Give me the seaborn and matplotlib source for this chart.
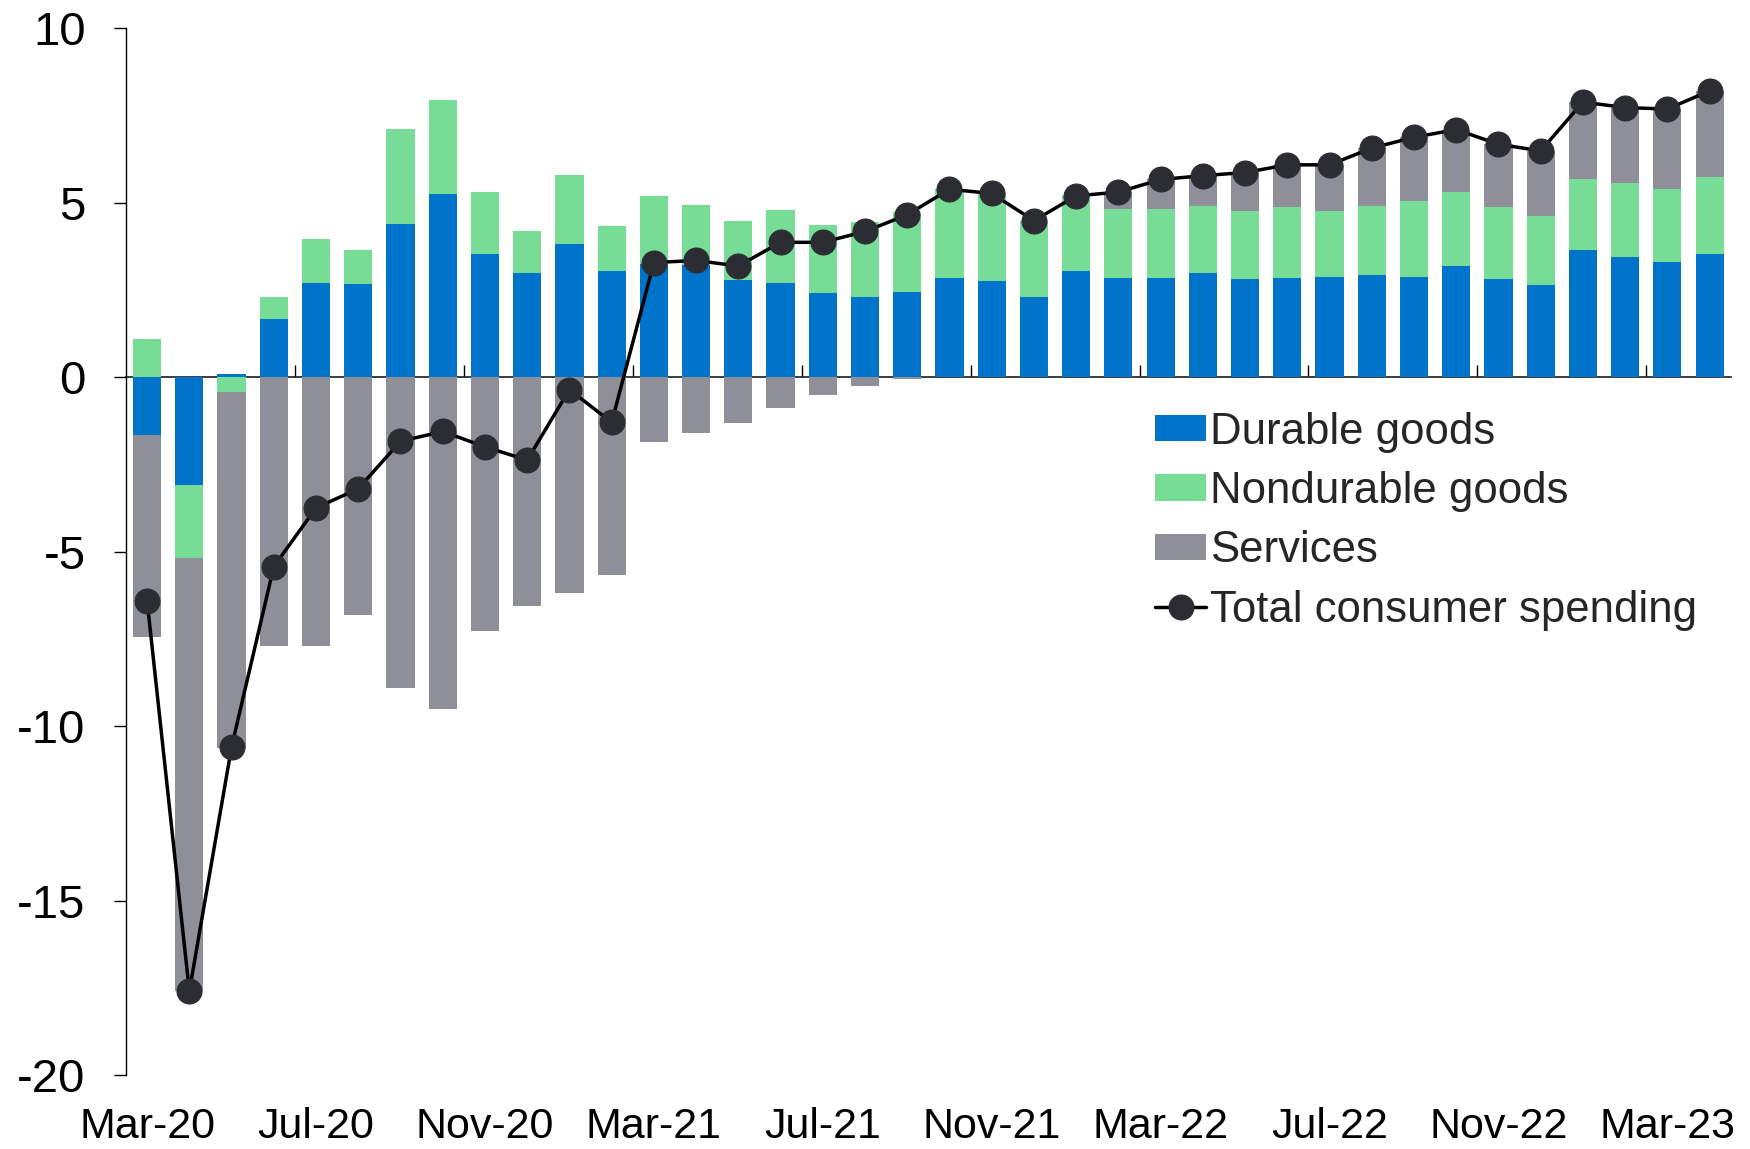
import matplotlib.pyplot as plt
import seaborn as sns
import numpy as np

sns.set_theme(style="white")
plt.rcParams['font.family'] = ['Liberation Sans', 'DejaVu Sans']

# monthly, Mar-20 .. Apr-23
months = ["Mar-20", "Apr-20", "May-20", "Jun-20", "Jul-20", "Aug-20", "Sep-20", "Oct-20",
          "Nov-20", "Dec-20", "Jan-21", "Feb-21", "Mar-21", "Apr-21", "May-21", "Jun-21",
          "Jul-21", "Aug-21", "Sep-21", "Oct-21", "Nov-21", "Dec-21", "Jan-22", "Feb-22",
          "Mar-22", "Apr-22", "May-22", "Jun-22", "Jul-22", "Aug-22", "Sep-22", "Oct-22",
          "Nov-22", "Dec-22", "Jan-23", "Feb-23", "Mar-23", "Apr-23"]
durable = [-1.65, -3.08, 0.10, 1.66, 2.70, 2.67, 4.38, 5.24, 3.53, 2.97, 3.82, 3.03,
           3.25, 3.22, 2.78, 2.69, 2.40, 2.29, 2.43, 2.84, 2.74, 2.29, 3.03, 2.84,
           2.84, 2.99, 2.80, 2.84, 2.88, 2.92, 2.88, 3.18, 2.80, 2.63, 3.63, 3.44, 3.30, 3.52]
nondurable = [1.10, -2.12, -0.42, 0.63, 1.26, 0.97, 2.73, 2.71, 1.78, 1.22, 1.97, 1.31,
              1.94, 1.71, 1.70, 2.09, 1.97, 2.15, 2.30, 2.52, 2.50, 2.17, 2.13, 1.98,
              1.98, 1.91, 1.95, 2.02, 1.87, 1.98, 2.16, 2.13, 2.06, 1.97, 2.05, 2.13, 2.09, 2.20]
services = [-5.80, -12.40, -10.22, -7.72, -7.72, -6.81, -8.91, -9.50, -7.29, -6.56, -6.19, -5.67,
            -1.87, -1.59, -1.31, -0.90, -0.51, -0.27, -0.07, 0.02, 0.02, 0.02, 0.04, 0.48,
            0.84, 0.87, 1.11, 1.22, 1.33, 1.66, 1.83, 1.78, 1.81, 1.88, 2.20, 2.15, 2.29, 2.48]
total = [-6.41, -17.60, -10.60, -5.43, -3.75, -3.20, -1.84, -1.56, -2.00, -2.38, -0.36, -1.30,
         3.28, 3.34, 3.18, 3.86, 3.86, 4.17, 4.65, 5.38, 5.26, 4.48, 5.19, 5.30,
         5.66, 5.77, 5.86, 6.08, 6.08, 6.56, 6.87, 7.09, 6.67, 6.48, 7.88, 7.72, 7.68, 8.20]

series = [("Durable goods", durable, "#0073CB"),
          ("Nondurable goods", nondurable, "#77DD96"),
          ("Services", services, "#8E8F99")]

x = np.arange(len(months))
fig = plt.figure(figsize=(17.5, 11.49), dpi=100)
ax = fig.add_axes([0.072, 0.0644, 0.917, 0.9112])

pos_base = np.zeros(len(x))
neg_base = np.zeros(len(x))
for name, vals, color in series:
    v = np.array(vals)
    bottom = np.where(v >= 0, pos_base, neg_base)
    ax.bar(x, v, bottom=bottom, width=0.667, color=color, label=name, linewidth=0)
    pos_base = pos_base + np.where(v >= 0, v, 0)
    neg_base = neg_base + np.where(v < 0, v, 0)

sns.lineplot(x=x, y=total, ax=ax, color="black", linewidth=2.5, marker="o",
             markersize=18, markerfacecolor="#2B2D33", markeredgecolor="#2B2D33",
             label="Total consumer spending", zorder=5)

ax.set_xlim(-0.5, 37.5)
ax.set_ylim(-20, 10)
ax.set_yticks([-20, -15, -10, -5, 0, 5, 10])
ax.set_yticklabels(["-20", "-15", "-10", "-5", "0", "5", "10"])
ax.set_xticks(x[::4])
ax.set_xticklabels(months[::4])
ax.tick_params(axis="x", length=0, labelsize=31, pad=23, colors="black")
ax.tick_params(axis="y", direction="out", length=9, width=1, left=True,
               labelsize=34, pad=20, colors="black")
for s in ["top", "right", "bottom"]:
    ax.spines[s].set_visible(False)
ax.spines["left"].set_color("black")
ax.spines["left"].set_linewidth(1)

# category axis drawn at zero, ticks between groups of 4 months
sec = ax.secondary_xaxis(2 / 3)
sec.set_xticks(np.arange(3.5, 37.5, 4))
sec.set_xticklabels([])
sec.tick_params(direction="out", length=9, width=1, color="black")
sec.spines["bottom"].set_color("black")
sec.spines["bottom"].set_linewidth(1.2)

handles, labels = ax.get_legend_handles_labels()
order = [labels.index(n) for n in ["Durable goods", "Nondurable goods", "Services",
                                   "Total consumer spending"]]
leg = ax.legend([handles[i] for i in order], [labels[i] for i in order],
                loc="upper left", bbox_to_anchor=(0.636, 0.642), frameon=False,
                fontsize=31.5, handlelength=1.15, handleheight=0.55, handletextpad=0.1,
                labelspacing=0.42, borderpad=0.2, borderaxespad=0)

fig.savefig("out.png", dpi=100)
